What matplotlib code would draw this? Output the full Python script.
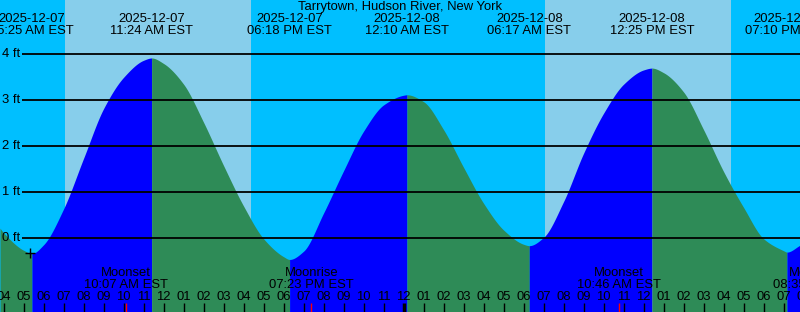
import numpy as np
import matplotlib.pyplot as plt

# time in hours from 2025-12-07 00:00 EST
t_start, t_end = 3.82, 43.82

# tide extremes (high / low) shown in the header
event_hours = [5.417, 11.4, 18.3, 24.167, 30.283, 36.417, 43.167]
event_heights = [-0.33, 3.92, -0.46, 3.12, -0.16, 3.70, -0.30]
event_dates = ["2025-12-07", "2025-12-07", "2025-12-07", "2025-12-08",
               "2025-12-08", "2025-12-08", "2025-12-08"]
event_labels = ["05:25 AM EST", "11:24 AM EST", "06:18 PM EST", "12:10 AM EST",
                "06:17 AM EST", "12:25 PM EST", "07:10 PM EST"]

# tide height every hour (ft)
curve_hours = [3.82] + list(range(4, 44)) + [43.82]
curve_heights = [0.22, 0.12, -0.26, -0.14, 0.64, 1.74, 2.82, 3.50, 3.87,
                 3.80, 3.35, 2.52, 1.58, 0.70, -0.01, -0.40,
                 -0.28, 0.55, 1.47, 2.33, 2.90, 3.11,
                 2.97, 2.36, 1.54, 0.76, 0.18, -0.13,
                 0.02, 0.80, 1.85, 2.72, 3.35, 3.66,
                 3.60, 3.18, 2.36, 1.45, 0.67, -0.01, -0.27, -0.15]

sunrise = [7.06, 31.06]
sunset = [16.36, 40.36]

moon_hours = [10.117, 19.383, 34.767, 44.583]
moon_names = ["Moonset", "Moonrise", "Moonset", "Moonrise"]
moon_labels = ["10:07 AM EST", "07:23 PM EST", "10:46 AM EST", "08:35 PM EST"]

now_hour, now_height = 5.32, -0.32

W, H = 800, 312
ZERO_PX, FT_PX = 238.3, 46.0


def ft(ypix):
    return (ZERO_PX - ypix) / FT_PX


def pchip(x, y, xs):
    # monotone cubic so the drawn line is smooth and keeps the read extremes
    hx = np.diff(x)
    d = np.diff(y) / hx
    m = np.zeros_like(y)
    m[0], m[-1] = d[0], d[-1]
    for k in range(1, len(x) - 1):
        if d[k - 1] * d[k] > 0:
            w1 = 2 * hx[k] + hx[k - 1]
            w2 = hx[k] + 2 * hx[k - 1]
            m[k] = (w1 + w2) / (w1 / d[k - 1] + w2 / d[k])
    i = np.clip(np.searchsorted(x, xs) - 1, 0, len(x) - 2)
    s = (xs - x[i]) / hx[i]
    h00 = 2 * s**3 - 3 * s**2 + 1
    h10 = s**3 - 2 * s**2 + s
    h01 = -2 * s**3 + 3 * s**2
    h11 = s**3 - s**2
    return h00 * y[i] + h10 * hx[i] * m[i] + h01 * y[i + 1] + h11 * hx[i] * m[i + 1]


fig = plt.figure(figsize=(8, 3.12), dpi=100)
ax = fig.add_axes([0, 0, 1, 1])
ax.set_xlim(t_start, t_end)
ax.set_ylim(ft(H), ft(0))
ax.axis("off")
ax.add_patch(plt.Rectangle((t_start, ft(H)), t_end - t_start, ft(0) - ft(H),
                           color="#00BFFF", lw=0, zorder=0))
for a, b in zip(sunrise, sunset):
    ax.axvspan(a, b, color="#87CEEB", lw=0, zorder=1)

# merge hourly readings with the extremes, then fill each rise / fall
t = np.array(curve_hours + event_hours, dtype=float)
h = np.array(curve_heights + event_heights, dtype=float)
order = np.argsort(t)
t, h = t[order], h[order]
bounds = [t_start] + event_hours + [t_end]
for a, b in zip(bounds[:-1], bounds[1:]):
    ts = np.linspace(a, b, 200)
    hs = pchip(t, h, ts)
    rising = hs[-1] > hs[0]
    ax.fill_between(ts, ft(H), hs, color="#0000FF" if rising else "#2E8B57",
                    lw=0, zorder=2)

ax.hlines(range(5), t_start + 22 / 20, t_end, color="black", lw=1.3, zorder=3)
font = dict(family="Liberation Sans", fontsize=9.4, color="black", zorder=5)
for k in range(5):
    ax.text(t_start + 2 / 20, k, f"{k} ft", ha="left", va="center", **font)

ax.plot(now_hour, now_height, marker="+", color="black", ms=7, mew=1, zorder=4)

ax.text((t_start + t_end) / 2, ft(7), "Tarrytown, Hudson River, New York",
        ha="center", va="center", **font)
for x, d, s in zip(event_hours, event_dates, event_labels):
    ax.text(x, ft(19), d, ha="center", va="center", **font)
    ax.text(x, ft(31), s, ha="center", va="center", **font)

for x, n, s in zip(moon_hours, moon_names, moon_labels):
    ax.text(x, ft(273), n, ha="center", va="center", **font)
    ax.text(x, ft(285), s, ha="center", va="center", **font)
    ax.vlines(x, ft(H), ft(303), color="red", lw=1, zorder=4)

for hr in range(4, 45):
    lab = f"{(hr - 1) % 12 + 1:02d}"
    ax.text(hr, ft(297), lab, ha="center", va="center", **font)
    ax.vlines(hr, ft(H), ft(303), color="black", lw=2.5 if hr % 24 == 0 else 1,
              zorder=4)

fig.savefig("out.png", dpi=100)
